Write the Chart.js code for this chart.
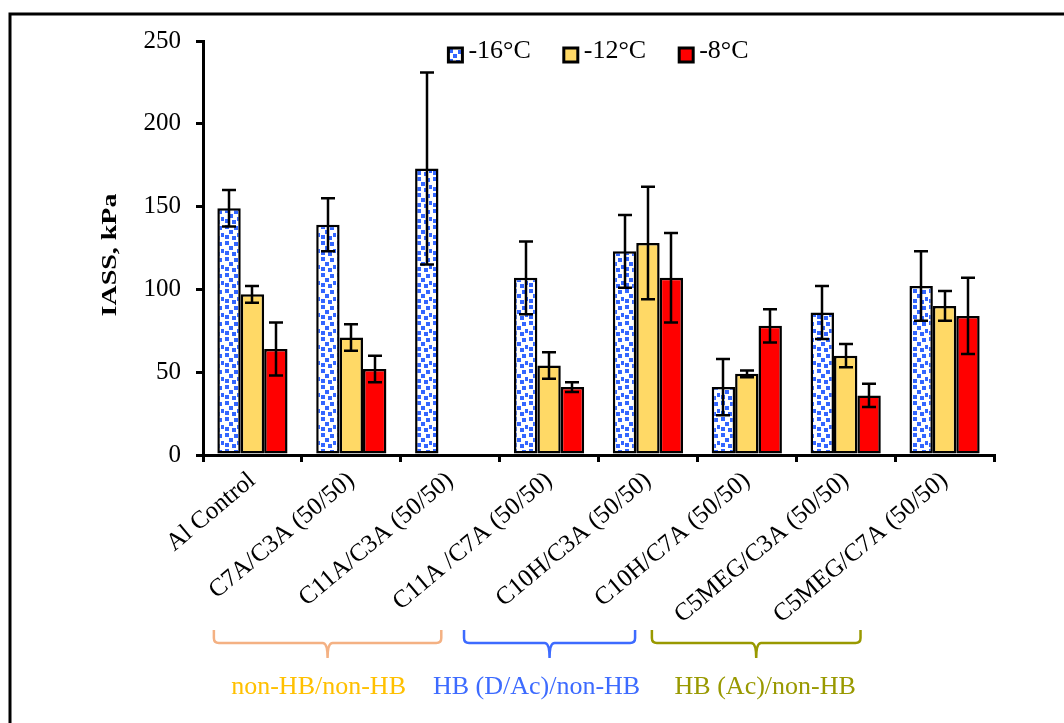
<!DOCTYPE html>
<html>
<head>
<meta charset="utf-8">
<script src="https://cdn.jsdelivr.net/npm/chart.js@4.4.1/dist/chart.umd.min.js"></script>
<style>
  html, body { margin: 0; padding: 0; background: #fff; }
  #wrap { width: 1064px; height: 723px; position: relative; }
</style>
</head>
<body>
<div id="wrap"><canvas id="c" width="1064" height="723"></canvas></div>
<script>
// Ice adhesion shear strength (kPa) per coating at three temperatures
const categories = [
  'Al Control', 'C7A/C3A (50/50)', 'C11A/C3A (50/50)', 'C11A /C7A (50/50)',
  'C10H/C3A (50/50)', 'C10H/C7A (50/50)', 'C5MEG/C3A (50/50)', 'C5MEG/C7A (50/50)'
];
const seriesLabels = ['-16°C', '-12°C', '-8°C'];
const iassMinus16 = [149, 139, 173, 107, 123, 41, 86, 102];
const iassMinus12 = [97, 71, null, 54, 128, 49, 60, 90];
const iassMinus8  = [64, 52, null, 41, 107, 78, 36, 84];
const errMinus16 = [11, 16, 58, 22, 22, 17, 16, 21];
const errMinus12 = [5, 8, null, 8, 34, 2, 7, 9];
const errMinus8  = [16, 8, null, 3, 27, 10, 7, 23];
const yTicks = [0, 50, 100, 150, 200, 250];
const groupLabels = ['non-HB/non-HB', 'HB (D/Ac)/non-HB', 'HB (Ac)/non-HB'];

const SERIF = '"Liberation Serif", "Times New Roman", serif';
const canvas = document.getElementById('c');
const ctx = canvas.getContext('2d');

// Blue speckled fill for the -16°C series
function speckle() {
  const t = document.createElement('canvas');
  t.width = 16; t.height = 16;
  const g = t.getContext('2d');
  g.fillStyle = '#ffffff';
  g.fillRect(0, 0, 16, 16);
  g.fillStyle = '#3366ff';
  [[1, 1], [10, 2], [5, 6], [13, 9], [1, 11], [8, 12]].forEach(([x, y]) => g.fillRect(x, y, 4, 4));
  return ctx.createPattern(t, 'repeat');
}

// Brace spans along the category axis (in category units), colours and caption shift
const braces = [
  { from: -0.39, to: 1.91, line: '#f4b183', text: '#ffc000', dx: -9 },
  { from: 2.14, to: 3.87, line: '#3d6bff', text: '#3d6bff', dx: -13 },
  { from: 4.04, to: 6.15, line: '#999900', text: '#999900', dx: 9 }
];

const framePlugin = {
  id: 'frame',
  afterDraw(chart) {
    const c = chart.ctx;
    c.save();
    c.strokeStyle = '#000';
    c.lineWidth = 3;
    c.strokeRect(10, 14, 1200, 900);
    c.restore();
  }
};

const errorBarPlugin = {
  id: 'errorBars',
  afterDatasetsDraw(chart) {
    const c = chart.ctx;
    const y = chart.scales.y;
    c.save();
    c.strokeStyle = '#000';
    c.lineWidth = 2.5;
    chart.data.datasets.forEach((ds, i) => {
      const meta = chart.getDatasetMeta(i);
      meta.data.forEach((bar, j) => {
        const v = ds.data[j], e = ds.errors[j];
        if (v == null || e == null) return;
        const top = y.getPixelForValue(v + e);
        const bot = y.getPixelForValue(v - e);
        const x = Math.round(bar.x);
        c.beginPath();
        c.moveTo(x, top); c.lineTo(x, bot);
        c.moveTo(x - 7, top); c.lineTo(x + 7, top);
        c.moveTo(x - 7, bot); c.lineTo(x + 7, bot);
        c.stroke();
      });
    });
    c.restore();
  }
};

const legendPlugin = {
  id: 'topLegend',
  afterDraw(chart) {
    const c = chart.ctx;
    const area = chart.chartArea;
    c.save();
    c.font = '26px ' + SERIF;
    const box = 14, gapText = 6, gapItem = 33;
    const items = chart.data.datasets.map(ds => ({ ds, w: c.measureText(ds.label).width }));
    const total = items.reduce((s, it) => s + box + gapText + it.w, 0) + gapItem * (items.length - 1);
    let x = (area.left + area.right) / 2 - total / 2;
    const cy = area.top + 10;
    items.forEach(it => {
      c.fillStyle = it.ds.backgroundColor;
      c.fillRect(x, cy - 3, box, box);
      c.strokeStyle = '#000';
      c.lineWidth = 3;
      c.strokeRect(x, cy - 3, box, box);
      c.fillStyle = '#000';
      c.textBaseline = 'middle';
      c.textAlign = 'left';
      c.fillText(it.ds.label, x + box + gapText, cy);
      x += box + gapText + it.w + gapItem;
    });
    c.restore();
  }
};

const yTitlePlugin = {
  id: 'yTitle',
  afterDraw(chart) {
    const c = chart.ctx;
    const area = chart.chartArea;
    c.save();
    c.translate(111, (area.top + area.bottom) / 2 + 7);
    c.rotate(-Math.PI / 2);
    c.scale(1.4, 1);
    c.font = 'bold 20px ' + SERIF;
    c.fillStyle = '#000';
    c.textAlign = 'center';
    c.textBaseline = 'middle';
    c.fillText('IASS, kPa', 0, 0);
    c.restore();
  }
};

const bracePlugin = {
  id: 'braces',
  afterDraw(chart) {
    const c = chart.ctx;
    const xs = chart.scales.x;
    const step = (chart.chartArea.right - chart.chartArea.left) / categories.length;
    const base = xs.getPixelForValue(0);
    const yTop = 630, yMid = 643, yTip = 658, r = 5;
    c.save();
    braces.forEach((b, k) => {
      const x0 = base + b.from * step, x1 = base + b.to * step, xm = (x0 + x1) / 2;
      c.strokeStyle = b.line;
      c.lineWidth = 2.5;
      c.beginPath();
      c.moveTo(x0, yTop);
      c.lineTo(x0, yMid - r);
      c.quadraticCurveTo(x0, yMid, x0 + r, yMid);
      c.lineTo(xm - r, yMid);
      c.quadraticCurveTo(xm, yMid, xm, yTip);
      c.quadraticCurveTo(xm, yMid, xm + r, yMid);
      c.lineTo(x1 - r, yMid);
      c.quadraticCurveTo(x1, yMid, x1, yMid - r);
      c.lineTo(x1, yTop);
      c.stroke();
      c.fillStyle = b.text;
      c.font = '26px ' + SERIF;
      c.textAlign = 'center';
      c.textBaseline = 'middle';
      c.fillText(groupLabels[k], xm + b.dx, 687);
    });
    c.restore();
  }
};

const pattern = speckle();
const series = [iassMinus16, iassMinus12, iassMinus8];
const errors = [errMinus16, errMinus12, errMinus8];
const fills = [pattern, '#ffd966', '#ff0000'];

new Chart(canvas, {
  type: 'bar',
  data: {
    labels: categories,
    datasets: series.map((d, i) => ({
      label: seriesLabels[i],
      data: d,
      errors: errors[i],
      backgroundColor: fills[i],
      borderColor: '#000',
      borderWidth: 2.5,
      borderSkipped: false,
      categoryPercentage: 0.71,
      barPercentage: 1.0
    }))
  },
  options: {
    responsive: false,
    animation: false,
    layout: { padding: { left: 100, top: 41, right: 70, bottom: 0 } },
    plugins: { legend: { display: false }, tooltip: { enabled: false } },
    scales: {
      x: {
        grid: { display: true, drawOnChartArea: false, drawTicks: true, tickLength: 7, color: '#000', lineWidth: 3, offset: true },
        border: { display: true, color: '#000', width: 3 },
        ticks: {
          color: '#000',
          font: { family: SERIF, size: 25 },
          minRotation: 40, maxRotation: 40, autoSkip: false, padding: 4
        },
        afterFit(s) { s.height = 268; }
      },
      y: {
        min: 0, max: 250,
        afterBuildTicks(s) { s.ticks = yTicks.map(v => ({ value: v })); },
        grid: { display: true, drawOnChartArea: false, drawTicks: true, tickLength: 7, color: '#000', lineWidth: 3 },
        border: { display: true, color: '#000', width: 3 },
        ticks: { color: '#000', font: { family: SERIF, size: 25 }, padding: 15 },
        afterFit(s) { s.width = 103; }
      }
    }
  },
  plugins: [errorBarPlugin, legendPlugin, yTitlePlugin, bracePlugin, framePlugin]
});
</script>
</body>
</html>
